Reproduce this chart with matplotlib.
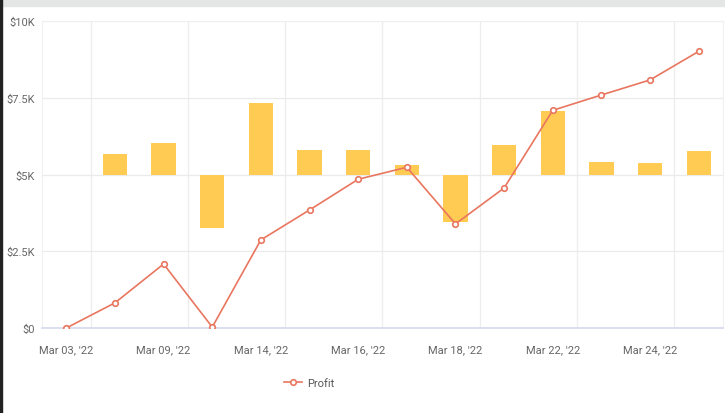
import matplotlib

matplotlib.use("Agg")

import matplotlib.pyplot as plt
import numpy as np

# daily values, 14 days; only every other date is labelled on the axis
profit = [0, 820, 2085, 30, 2870, 3845, 4845, 5235, 3390, 4560, 7090, 7590, 8080, 9010]
bar_top = [5000, 5680, 6035, 3250, 7340, 5800, 5800, 5300, 3445, 5960, 7060, 5405, 5375, 5765]
bar_base = 5000
tick_labels = ["Mar 03, '22", "Mar 09, '22", "Mar 14, '22", "Mar 16, '22",
               "Mar 18, '22", "Mar 22, '22", "Mar 24, '22"]
y_ticks = [0, 2500, 5000, 7500, 10000]
y_labels = ["$0", "$2.5K", "$5K", "$7.5K", "$10K"]

plt.rcParams["font.family"] = ["Roboto", "DejaVu Sans"]

fig = plt.figure(figsize=(7.25, 4.14), dpi=100)
ax = fig.add_axes([42 / 725, 1 - 329 / 414, 681 / 725, 307 / 414])

x = np.arange(len(profit))
heights = np.array(bar_top) - bar_base
ax.bar(x, heights, bottom=bar_base, width=0.5, color="#FFCB52", zorder=2)
ax.plot(x, profit, color="#E9765F", lw=1.2, marker="o", ms=4,
        markerfacecolor="white", markeredgecolor="#E9765F", markeredgewidth=1.2,
        label="Profit", zorder=3)

ax.set_xlim(-0.5, len(profit) - 0.5)
ax.set_ylim(0, 10000)
ax.set_yticks(y_ticks)
ax.set_yticklabels(y_labels)
ax.set_xticks(x[::2])
ax.set_xticklabels(tick_labels)
ax.set_xticks(x[::2] + 0.5, minor=True)

ax.tick_params(axis="x", which="both", length=0, pad=12, labelsize=8, labelcolor="#666666")
ax.tick_params(axis="y", length=0, pad=5, labelsize=8, labelcolor="#666666")
ax.grid(False)
ax.grid(True, axis="y", color="#EBEBEB", lw=0.9, zorder=0)
ax.grid(True, axis="x", which="minor", color="#EDEDED", lw=0.9, zorder=0)

for side in ["top", "left", "right"]:
    ax.spines[side].set_color("#F0F0F0")
ax.spines["bottom"].set_color("#D5D9EE")
ax.spines["bottom"].set_linewidth(1.2)

fig.legend(loc="center", bbox_to_anchor=(0.427, 1 - 384 / 414), frameon=False,
           fontsize=8, labelcolor="#555555", handlelength=1.6, handletextpad=0.5)

# screenshot frame: grey strip on top, dark left edge
fig.patches.append(plt.Rectangle((0, 1 - 7 / 414), 1, 7 / 414, transform=fig.transFigure,
                                 color="#E4E6E5", zorder=0))
fig.patches.append(plt.Rectangle((0, 0), 2 / 725, 1, transform=fig.transFigure,
                                 color="#222222", zorder=0))

fig.savefig("out.png", dpi=100)
plt.close(fig)
